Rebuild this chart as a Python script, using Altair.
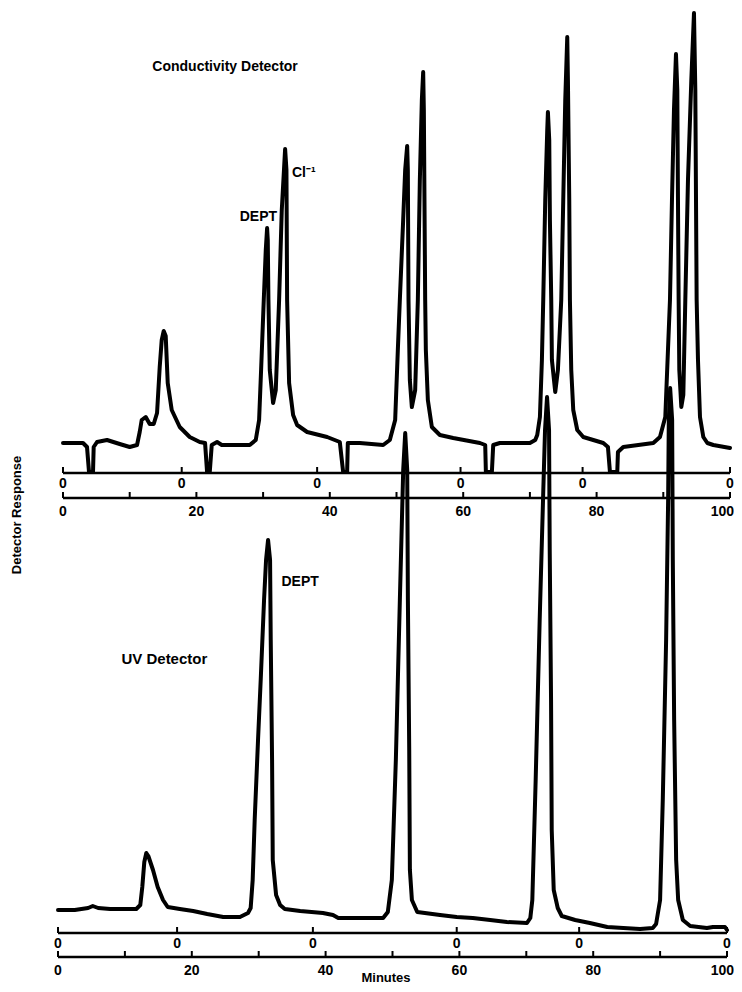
import altair as alt
import pandas as pd

# ---------------- data ----------------
# Conductivity detector trace: (minutes, response)
cond_trace = [
    (0, 0), (3.0, 0), (3.6, -0.8), (3.9, -5.8), (4.5, -5.8), (4.6, -0.8), (5.1, 0.2), (6.6, 0.6),
    (8.5, -0.2), (10.0, -0.8), (11.1, -0.4), (11.5, 2.2), (11.8, 4.6), (12.4, 5.2), (13.0, 3.8),
    (13.6, 3.8), (14.1, 6.0), (14.5, 15.2), (14.8, 20.6), (15.1, 22.4), (15.4, 21.4), (15.7, 12.0),
    (16.3, 6.6), (17.5, 3.2), (19.0, 1.2), (20.5, 0.2), (21.3, 0),
    (21.6, -5.8), (22.0, -5.8), (22.3, -0.4), (23.1, 0.2), (23.8, -0.4), (28.0, -0.4), (28.9, 0.6),
    (29.4, 4.6), (29.7, 14.6), (30.1, 28.6), (30.4, 38.6), (30.6, 43.0), (30.7, 40.6), (30.8, 28.6),
    (31.0, 14.6), (31.5, 8.0), (31.9, 10.6), (32.4, 28.6), (32.8, 46.6), (33.3, 58.8), (33.5, 54.6),
    (33.6, 28.6), (33.9, 12.0), (34.5, 5.6), (35.1, 3.6), (36.6, 2.2), (39.6, 1.2), (41.5, 0.2),
    (42.0, -5.8), (42.6, -5.8), (42.7, 0), (44.5, 0), (48.0, -0.4), (49.0, 0.6), (49.8, 4.6),
    (50.2, 18.6), (50.5, 28.6), (51.0, 44.6), (51.3, 54.6), (51.6, 59.4), (51.7, 54.6), (51.8, 28.6),
    (52.0, 12.6), (52.3, 7.2), (52.8, 10.6), (53.2, 28.6), (53.5, 52.6), (53.8, 68.6), (54.0, 74.2),
    (54.1, 66.6), (54.3, 28.6), (54.4, 18.6), (54.7, 8.6), (55.3, 3.2), (56.5, 1.6), (58.5, 1.0),
    (62.5, 0), (63.3, -0.4), (63.4, -5.8), (64.3, -5.8), (64.5, -0.4), (65.5, 0), (70.0, 0),
    (70.8, 0.6), (71.1, 1.6), (71.5, 5.2), (71.8, 16.6), (72.0, 28.6), (72.3, 48.6), (72.6, 62.6),
    (72.7, 66.2), (72.9, 60.6), (73.0, 44.6), (73.2, 28.6), (73.3, 16.6), (73.8, 10.2), (74.2, 14.6),
    (74.7, 28.6), (75.0, 48.6), (75.3, 68.6), (75.6, 81.2), (75.7, 72.6), (75.9, 48.6), (76.0, 28.6),
    (76.2, 14.6), (76.5, 6.6), (77.1, 2.6), (78.0, 1.2), (81.0, 0), (81.7, -0.8), (82.0, -5.8),
    (83.1, -5.8), (83.2, -1.8), (84.0, -0.8), (88.5, 0), (89.5, 1.2), (90.3, 5.2), (90.7, 18.6),
    (91.0, 28.6), (91.3, 48.6), (91.6, 66.6), (91.9, 77.8), (92.1, 70.6), (92.2, 48.6), (92.3, 28.6),
    (92.4, 14.6), (92.7, 7.2), (93.0, 9.6), (93.3, 28.6), (93.7, 52.6), (94.2, 72.6), (94.6, 86.0),
    (94.8, 70.6), (95.0, 28.6), (95.2, 16.6), (95.5, 5.2), (96.0, 1.2), (96.6, 0), (97.5, -0.4),
    (100.0, -1.0),
]

# UV detector trace: (minutes, response)
uv_trace = [
    (0, 0), (2.5, 0), (4.5, 0.4), (5.2, 0.8), (6.0, 0.4), (7.8, 0.2), (11.7, 0.2), (12.3, 1.0),
    (12.6, 4.6), (12.9, 9.6), (13.2, 11.4), (13.5, 10.8), (14.2, 8.0), (14.9, 4.6), (15.7, 2.0),
    (16.4, 0.6), (18.2, 0.2), (20.2, -0.2), (22.3, -0.8), (24.7, -1.4), (27.2, -1.4), (28.4, -0.6),
    (28.8, 0.4), (29.1, 6.0), (29.4, 18.0), (29.9, 34.0), (30.3, 46.0), (30.8, 62.0), (31.1, 70.0),
    (31.4, 74.0), (31.7, 70.0), (31.8, 54.0), (32.0, 30.0), (32.1, 10.0), (32.6, 3.0), (33.2, 1.0),
    (33.9, 0.2), (36.2, -0.2), (39.6, -0.6), (41.1, -1.0), (41.9, -1.6), (48.6, -1.6), (49.3, -0.4),
    (49.9, 6.0), (50.5, 30.0), (51.1, 62.0), (51.6, 88.0), (51.9, 95.4), (52.2, 88.0), (52.3, 62.0),
    (52.5, 32.0), (52.6, 8.0), (52.9, 2.0), (53.7, -0.4), (57.1, -1.0), (59.6, -1.4), (62.0, -1.6),
    (64.6, -2.0), (67.1, -2.4), (70.1, -2.6), (70.6, -1.6), (70.9, 2.0), (71.4, 26.0), (72.0, 58.0),
    (72.5, 82.0), (72.8, 96.0), (73.1, 102.6), (73.4, 96.0), (73.5, 72.0), (73.7, 42.0), (73.8, 16.0),
    (74.1, 4.0), (74.7, 0.4), (75.3, -1.2), (77.3, -2.0), (79.5, -2.6), (82.1, -3.4), (84.5, -3.6),
    (87.0, -3.8), (88.9, -3.6), (89.4, -2.8), (90.0, 2.0), (90.4, 22.0), (90.9, 54.0), (91.2, 82.0),
    (91.3, 98.0), (91.5, 104.4), (91.8, 98.0), (91.9, 70.0), (92.1, 38.0), (92.4, 10.0), (92.7, 2.0),
    (93.4, -2.0), (94.5, -3.2), (97.0, -3.6), (97.9, -3.4), (99.7, -3.4), (100, -4.0),
]

inject_min = [0, 17.8, 38.1, 59.6, 77.9, 100]        # injection marks ("0")
minute_ticks = [0, 10, 20, 30, 40, 50, 60, 70, 80, 90, 100]
minute_labels = [0, 20, 40, 60, 80]
minute_last_label = [100]

cond_label_text = ["Conductivity Detector", "DEPT", "Cl⁻¹"]
cond_label_min = [24.3, 29.3, 36.1]
cond_label_resp = [75.2, 45.2, 54.0]
cond_label_size = [14, 14, 14]

uv_label_text = ["UV Detector", "DEPT"]
uv_label_min = [15.9, 36.2]
uv_label_resp = [50.2, 65.6]
uv_label_size = [15, 14]

y_title = "Detector Response"
x_title = "Minutes"

# ---------------- chart ----------------
W, H = 726, 976
FONT = "Liberation Sans"

xc = alt.Scale(domain=[0, 100], range=[55, 722], nice=False, zero=False)
yc = alt.Scale(domain=[0, 100], range=[435, -65], nice=False, zero=False)
xu = alt.Scale(domain=[0, 100], range=[50, 719], nice=False, zero=False)
yu = alt.Scale(domain=[0, 100], range=[902, 402], nice=False, zero=False)


def trace_df(pairs):
    return pd.DataFrame({"m": [p[0] for p in pairs], "v": [p[1] for p in pairs],
                         "i": list(range(len(pairs)))})


def panel(pairs, xs, ys, lt, lm, lr, ls, axis1_y, axis2_y, last_dx):
    X = lambda f: alt.X(f, scale=xs, axis=None)
    line = alt.Chart(trace_df(pairs)).mark_line(
        color="black", strokeWidth=4, strokeJoin="round", strokeCap="round"
    ).encode(x=X("m:Q"), y=alt.Y("v:Q", scale=ys, axis=None), order="i:Q")

    span = pd.DataFrame({"a": [minute_ticks[0]], "b": [minute_ticks[-1]]})
    ax1 = alt.Chart(span).mark_rule(color="black", strokeWidth=2.5).encode(
        x=X("a:Q"), x2="b:Q", y=alt.value(axis1_y))
    ax2 = alt.Chart(span).mark_rule(color="black", strokeWidth=2.5).encode(
        x=X("a:Q"), x2="b:Q", y=alt.value(axis2_y))

    inj = pd.DataFrame({"m": inject_min, "lab": ["0"] * len(inject_min)})
    t1 = alt.Chart(inj).mark_rule(color="black", strokeWidth=2).encode(
        x=X("m:Q"), y=alt.value(axis1_y - 6), y2=alt.value(axis1_y))
    l1 = alt.Chart(inj).mark_text(font=FONT, fontWeight="bold", fontSize=14,
                                  baseline="middle", color="black").encode(
        x=X("m:Q"), y=alt.value(axis1_y + 11), text="lab:N")

    tk = pd.DataFrame({"m": minute_ticks})
    t2 = alt.Chart(tk).mark_rule(color="black", strokeWidth=2).encode(
        x=X("m:Q"), y=alt.value(axis2_y - 6), y2=alt.value(axis2_y))
    lb = pd.DataFrame({"m": minute_labels, "lab": [str(v) for v in minute_labels]})
    l2 = alt.Chart(lb).mark_text(font=FONT, fontWeight="bold", fontSize=14,
                                 baseline="middle", color="black").encode(
        x=X("m:Q"), y=alt.value(axis2_y + 14), text="lab:N")
    lbl = pd.DataFrame({"m": minute_last_label, "lab": [str(v) for v in minute_last_label]})
    l3 = alt.Chart(lbl).mark_text(font=FONT, fontWeight="bold", fontSize=14, align="right",
                                  dx=last_dx, baseline="middle", color="black").encode(
        x=X("m:Q"), y=alt.value(axis2_y + 14), text="lab:N")

    ann = pd.DataFrame({"t": lt, "m": lm, "v": lr, "fs": ls})
    labels = alt.Chart(ann).mark_text(font=FONT, fontWeight="bold", baseline="middle",
                                      align="center", color="black").encode(
        x=X("m:Q"), y=alt.Y("v:Q", scale=ys, axis=None), text="t:N",
        size=alt.Size("fs:Q", scale=None, legend=None))

    return alt.layer(line, ax1, ax2, t1, l1, t2, l2, l3, labels)


cond = panel(cond_trace, xc, yc, cond_label_text, cond_label_min, cond_label_resp,
             cond_label_size, 465, 490, 4)
uv = panel(uv_trace, xu, yu, uv_label_text, uv_label_min, uv_label_resp,
           uv_label_size, 925, 949, 7)

ytitle = alt.Chart(pd.DataFrame({"t": [y_title]})).mark_text(
    font=FONT, fontWeight="bold", fontSize=13, angle=270, baseline="middle",
    align="center", color="black").encode(text="t:N", x=alt.value(9), y=alt.value(507))
xtitle = alt.Chart(pd.DataFrame({"t": [x_title]})).mark_text(
    font=FONT, fontWeight="bold", fontSize=13, baseline="middle",
    align="center", color="black").encode(text="t:N", x=alt.value(378), y=alt.value(970))

chart = alt.layer(cond, uv, ytitle, xtitle).resolve_scale(
    x="independent", y="independent"
).properties(
    width=W, height=H, padding=0, autosize=alt.AutoSizeParams(type="none"),
    background="white"
).configure_view(stroke=None)

chart.save("out.html", embed_options={"renderer": "svg", "actions": False})
